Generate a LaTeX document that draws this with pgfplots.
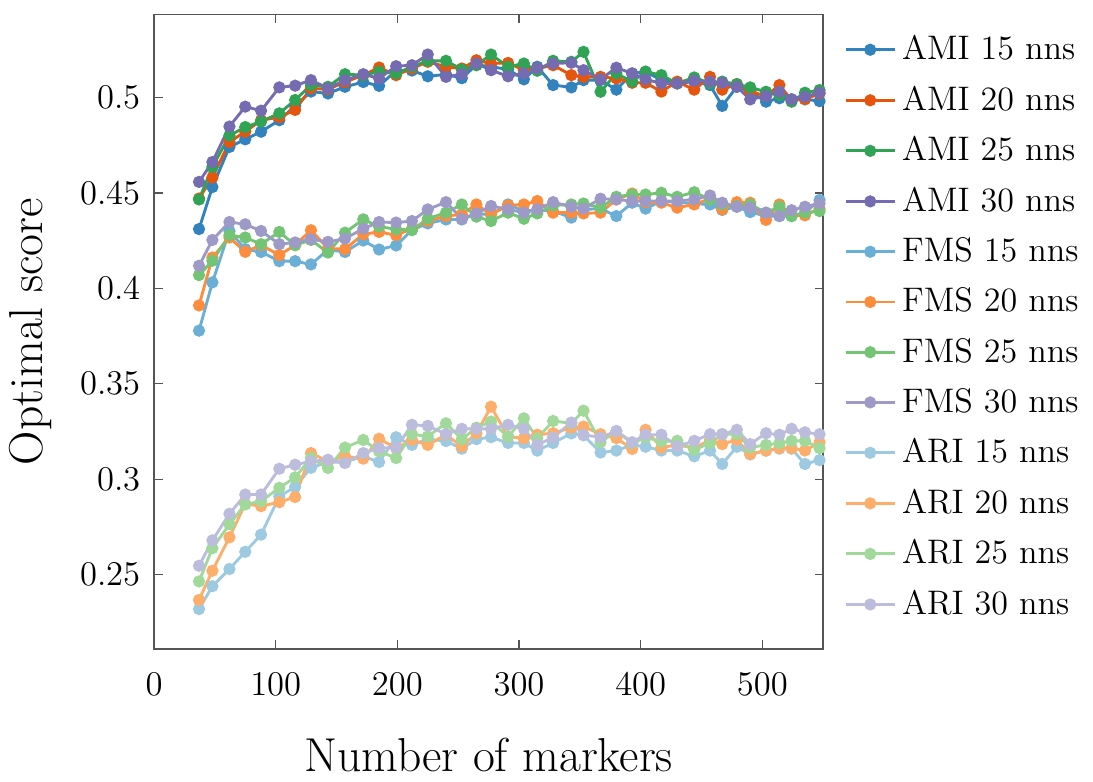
\documentclass[border=0pt]{standalone}
\usepackage{pgfplots}
\pgfplotsset{compat=1.18}
\usepackage{pgfplotstable}
\definecolor{amiA}{HTML}{3182BD}
\definecolor{amiB}{HTML}{E6550D}
\definecolor{amiC}{HTML}{31A354}
\definecolor{amiD}{HTML}{756BB1}
\definecolor{fmsA}{HTML}{6BAED6}
\definecolor{fmsB}{HTML}{FD8D3C}
\definecolor{fmsC}{HTML}{74C476}
\definecolor{fmsD}{HTML}{9E9AC8}
\definecolor{ariA}{HTML}{9ECAE1}
\definecolor{ariB}{HTML}{FDAE6B}
\definecolor{ariC}{HTML}{A1D99B}
\definecolor{ariD}{HTML}{BCBDDC}
\definecolor{frame}{HTML}{555555}

\pgfplotstableread{
x   a15    a20    a25    a30
37  0.431  0.447  0.4465 0.4557
48  0.453  0.458  0.4635 0.4661
62  0.474  0.4766 0.480  0.4847
75  0.478  0.482  0.4844 0.4951
88  0.482  0.488  0.4873 0.4930
103 0.488  0.4896 0.4916 0.5052
116 0.4955 0.4934 0.4986 0.5061
129 0.503  0.5047 0.5064 0.5090
143 0.502  0.5042 0.5055 0.5047
157 0.5055 0.508  0.5121 0.5090
172 0.508  0.5116 0.5116 0.5121
185 0.506  0.5156 0.5134 0.5099
199 0.514  0.5116 0.5125 0.5163
212 0.514  0.5151 0.5160 0.5168
225 0.511  0.5186 0.5191 0.5224
240 0.512  0.5160 0.5191 0.5107
253 0.510  0.5151 0.5146 0.5121
265 0.517  0.5194 0.5168 0.5177
277 0.516  0.5177 0.5224 0.5142
291 0.5146 0.5180 0.5160 0.5110
304 0.5094 0.5142 0.5177 0.5125
315 0.516  0.5151 0.5139 0.5151
328 0.5064 0.5168 0.5191 0.5177
343 0.5052 0.5116 0.5186 0.5181
353 0.5090 0.5107 0.5238 0.5142
367 0.5090 0.5107 0.5029 0.5094
380 0.5040 0.5099 0.5125 0.5155
393 0.5125 0.5076 0.5082 0.5125
404 0.5134 0.5076 0.5134 0.5094
417 0.5090 0.5030 0.5116 0.5073
430 0.5073 0.5082 0.5073 0.5073
444 0.5082 0.5040 0.5104 0.5087
457 0.5064 0.5107 0.5073 0.5082
467 0.4955 0.5040 0.5082 0.5076
479 0.5055 0.5069 0.5069 0.5055
490 0.5030 0.5030 0.5052 0.4989
503 0.4977 0.5007 0.5029 0.5007
514 0.4995 0.5064 0.5012 0.5029
524 0.4990 0.4986 0.4977 0.4989
535 0.4990 0.4990 0.5024 0.5003
547 0.4980 0.5020 0.5038 0.5024
}\amitable

\pgfplotstableread{
x   f15    f20    f25    f30
37  0.3778 0.3910 0.4069 0.4118
48  0.4031 0.4161 0.4144 0.4253
62  0.4300 0.4266 0.4278 0.4347
75  0.4205 0.4191 0.4266 0.4335
88  0.4190 0.4226 0.4231 0.4300
103 0.4142 0.4174 0.4295 0.4231
116 0.4142 0.4226 0.4226 0.4240
129 0.4125 0.4304 0.4253 0.4257
143 0.4202 0.4208 0.4187 0.4243
157 0.4190 0.4205 0.4291 0.4260
172 0.4250 0.4283 0.4361 0.4312
185 0.4203 0.4295 0.4323 0.4347
199 0.4224 0.4278 0.4309 0.4344
212 0.4305 0.4312 0.4305 0.4352
225 0.4340 0.4352 0.4364 0.4413
240 0.4360 0.4378 0.4396 0.4451
253 0.4360 0.4387 0.4439 0.4364
265 0.4390 0.4439 0.4375 0.4392
277 0.4387 0.4387 0.4352 0.4431
291 0.4439 0.4434 0.4396 0.4413
304 0.4404 0.4439 0.4364 0.4396
315 0.4410 0.4457 0.4392 0.4413
328 0.4404 0.4396 0.4434 0.4451
343 0.4370 0.4396 0.4439 0.4427
353 0.4413 0.4392 0.4444 0.4417
367 0.4417 0.4396 0.4422 0.4469
380 0.4378 0.4465 0.4479 0.4465
393 0.4448 0.4496 0.4491 0.4457
404 0.4417 0.4451 0.4491 0.4457
417 0.4457 0.4448 0.4500 0.4457
430 0.4451 0.4422 0.4479 0.4457
444 0.4443 0.4439 0.4503 0.4465
457 0.4439 0.4469 0.4465 0.4486
467 0.4410 0.4413 0.4439 0.4448
479 0.4427 0.4451 0.4431 0.4427
490 0.4399 0.4448 0.4439 0.4422
503 0.4378 0.4358 0.4396 0.4396
514 0.4378 0.4439 0.4427 0.4378
524 0.4378 0.4382 0.4378 0.4409
535 0.4396 0.4382 0.4396 0.4427
547 0.4462 0.4417 0.4404 0.4444
}\fmstable

\pgfplotstableread{
x   r15    r20    r25    r30
37  0.232  0.2368 0.2465 0.2547
48  0.244  0.2521 0.2639 0.2680
62  0.253  0.2696 0.2764 0.2819
75  0.262  0.2871 0.2868 0.2920
88  0.271  0.2859 0.2885 0.2920
103 0.291  0.2880 0.2955 0.3055
116 0.296  0.2907 0.3010 0.3076
129 0.306  0.3137 0.3111 0.3094
143 0.309  0.3094 0.3059 0.3102
157 0.309  0.3120 0.3166 0.3085
172 0.312  0.3108 0.3206 0.3137
185 0.309  0.3212 0.3146 0.3163
199 0.322  0.3163 0.3111 0.3166
212 0.318  0.3206 0.3236 0.3285
225 0.321  0.3180 0.3224 0.3280
240 0.320  0.3233 0.3293 0.3236
253 0.316  0.3172 0.3210 0.3264
265 0.321  0.3241 0.3270 0.3264
277 0.322  0.3380 0.3302 0.3264
291 0.319  0.3223 0.3223 0.3285
304 0.319  0.3214 0.3319 0.3264
315 0.315  0.3233 0.3214 0.3180
328 0.319  0.3241 0.3305 0.3219
343 0.324  0.3270 0.3293 0.3297
353 0.323  0.3276 0.3359 0.3233
367 0.314  0.3236 0.3194 0.3219
380 0.315  0.3215 0.3252 0.3252
393 0.318  0.3159 0.3189 0.3194
404 0.317  0.3259 0.3219 0.3233
417 0.315  0.3166 0.3198 0.3233
430 0.315  0.3180 0.3201 0.3172
444 0.312  0.3163 0.3154 0.3201
457 0.315  0.3206 0.3189 0.3236
467 0.308  0.3184 0.3236 0.3236
479 0.317  0.3206 0.3236 0.3259
490 0.313  0.3132 0.3166 0.3184
503 0.315  0.3150 0.3180 0.3241
514 0.316  0.3163 0.3189 0.3233
524 0.316  0.3163 0.3201 0.3264
535 0.308  0.3150 0.3201 0.3246
547 0.310  0.3194 0.3163 0.3236
}\aritable

\begin{document}
\begin{tikzpicture}
\begin{axis}[
  name=main,
  scale only axis,
  width=232pt, height=220pt,
  xmin=0, xmax=550, ymin=0.2111, ymax=0.5434,
  xtick={0,100,200,300,400,500},
  ytick={0.25,0.3,0.35,0.4,0.45,0.5},
  yticklabels={0.25,0.3,0.35,0.4,0.45,0.5},
  tick align=inside,
  major tick length=3pt,
  axis line style={frame, line width=0.5pt},
  every tick/.style={frame, line width=0.5pt},
  tick label style={font=\fontsize{12}{14}\selectfont},
  xticklabel style={yshift=-4.7pt},
  yticklabel style={xshift=-1pt},
  label style={font=\fontsize{16.5}{19}\selectfont},
  xlabel={Number of markers},
  ylabel={Optimal score},
  xlabel style={yshift=-8pt},
  ylabel style={yshift=3pt},
  legend style={at={(1.0175,0.986)}, anchor=north west, draw=none, fill=none,
    font=\fontsize{11.8}{14}\selectfont, row sep=3.6pt},
  legend cell align=left,
  every axis plot/.append style={line width=1pt, mark=*, mark size=1.6pt, mark options={solid}},
]
\addplot[color=amiA] table[x=x,y=a15]{\amitable}; \addlegendentry{AMI 15 nns}
\addplot[color=amiB] table[x=x,y=a20]{\amitable}; \addlegendentry{AMI 20 nns}
\addplot[color=amiC] table[x=x,y=a25]{\amitable}; \addlegendentry{AMI 25 nns}
\addplot[color=amiD] table[x=x,y=a30]{\amitable}; \addlegendentry{AMI 30 nns}
\addplot[color=fmsA] table[x=x,y=f15]{\fmstable}; \addlegendentry{FMS 15 nns}
\addplot[color=fmsB] table[x=x,y=f20]{\fmstable}; \addlegendentry{FMS 20 nns}
\addplot[color=fmsC] table[x=x,y=f25]{\fmstable}; \addlegendentry{FMS 25 nns}
\addplot[color=fmsD] table[x=x,y=f30]{\fmstable}; \addlegendentry{FMS 30 nns}
\addplot[color=ariA] table[x=x,y=r15]{\aritable}; \addlegendentry{ARI 15 nns}
\addplot[color=ariB] table[x=x,y=r20]{\aritable}; \addlegendentry{ARI 20 nns}
\addplot[color=ariC] table[x=x,y=r25]{\aritable}; \addlegendentry{ARI 25 nns}
\addplot[color=ariD] table[x=x,y=r30]{\aritable}; \addlegendentry{ARI 30 nns}
\end{axis}
\path ([yshift=5pt]main.north);
\end{tikzpicture}
\end{document}
